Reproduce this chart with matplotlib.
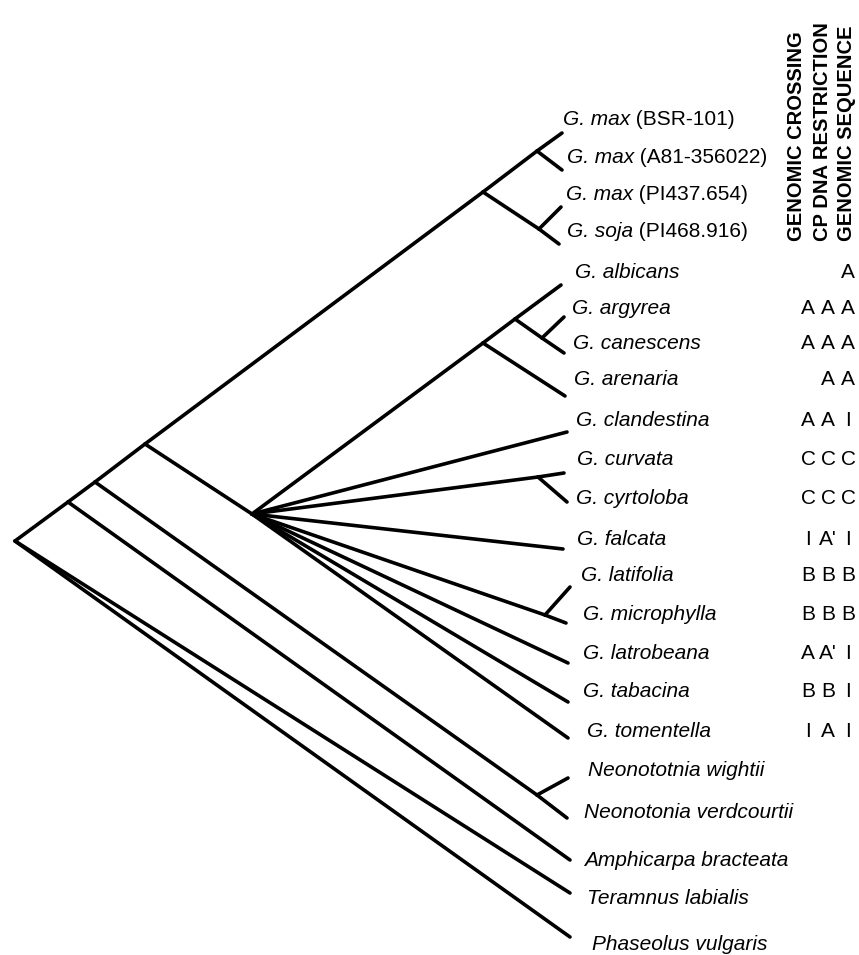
import matplotlib
matplotlib.use('Agg')
import matplotlib.pyplot as plt
from matplotlib import font_manager

# internal nodes of the cladogram, positions (pixels, y down)
node_names = ['root', 'a', 'b', 'c', 'soy', 'soy1', 'soy2', 'fan', 'p', 'q', 'r', 'cu', 'lm', 'neo']
node_x = [15, 68, 95, 145, 483, 537, 539, 252, 483, 515, 542, 538, 545, 537]
node_y = [541, 502, 482, 444, 192, 151, 229, 514, 343, 319, 338, 477, 615, 795]

# tips (end of each branch)
tip_names = ['bsr', 'a81', 'pi437', 'soja', 'albicans', 'argyrea', 'canescens', 'arenaria',
             'clandestina', 'curvata', 'cyrtoloba', 'falcata', 'latifolia', 'microphylla',
             'latrobeana', 'tabacina', 'tomentella', 'wightii', 'verdcourtii', 'amphicarpa',
             'teramnus', 'phaseolus']
tip_x = [562, 562, 561, 559, 561, 564, 564, 565, 567, 564, 567, 563, 570, 566,
         568, 568, 568, 568, 567, 570, 570, 570]
tip_y = [133, 170, 207, 244, 285, 317, 353, 396, 432, 473, 502, 549, 587, 623,
         663, 702, 738, 778, 818, 860, 893, 937]

edges = [('root', 'a'), ('a', 'b'), ('b', 'c'), ('c', 'soy'),
         ('soy', 'soy1'), ('soy1', 'bsr'), ('soy1', 'a81'),
         ('soy', 'soy2'), ('soy2', 'pi437'), ('soy2', 'soja'),
         ('c', 'fan'), ('fan', 'p'), ('p', 'q'), ('q', 'albicans'), ('q', 'r'),
         ('r', 'argyrea'), ('r', 'canescens'), ('p', 'arenaria'),
         ('fan', 'clandestina'), ('fan', 'cu'), ('cu', 'curvata'), ('cu', 'cyrtoloba'),
         ('fan', 'falcata'), ('fan', 'lm'), ('lm', 'latifolia'), ('lm', 'microphylla'),
         ('fan', 'latrobeana'), ('fan', 'tabacina'), ('fan', 'tomentella'),
         ('b', 'neo'), ('neo', 'wightii'), ('neo', 'verdcourtii'),
         ('a', 'amphicarpa'), ('root', 'teramnus'), ('root', 'phaseolus')]

# taxon labels: italic name + optional accession
species = ['G. max', 'G. max', 'G. max', 'G. soja', 'G. albicans', 'G. argyrea',
           'G. canescens', 'G. arenaria', 'G. clandestina', 'G. curvata', 'G. cyrtoloba',
           'G. falcata', 'G. latifolia', 'G. microphylla', 'G. latrobeana', 'G. tabacina',
           'G. tomentella', 'Neonototnia wightii', 'Neonotonia verdcourtii',
           'Amphicarpa bracteata', 'Teramnus labialis', 'Phaseolus vulgaris']
accession = ['(BSR-101)', '(A81-356022)', '(PI437.654)', '(PI468.916)'] + [''] * 18
label_x = [563, 567, 566, 567, 575, 572, 573, 574, 576, 577, 576, 577, 581, 583,
           583, 583, 587, 588, 584, 584, 587, 592]
label_y = [125, 163, 200, 237, 278, 314, 349, 385, 426, 465, 504, 545, 581, 620,
           659, 697, 737, 776, 818, 866, 904, 950]

# genome groups for the perennial Glycine (albicans .. tomentella)
headers = ['GENOMIC CROSSING', 'CP DNA RESTRICTION', 'GENOMIC SEQUENCE']
code_cross = ['', 'A', 'A', '', 'A', 'C', 'C', 'I', 'B', 'B', 'A', 'B', 'I']
code_cp = ['', 'A', 'A', 'A', 'A', 'C', 'C', "A'", 'B', 'B', "A'", 'B', 'A']
code_seq = ['A', 'A', 'A', 'A', 'I', 'C', 'C', 'I', 'B', 'B', 'I', 'I', 'I']
code_rows = list(range(4, 17))

fig = plt.figure(figsize=(8.59, 9.55), dpi=100)
ax = fig.add_axes([0, 0, 1, 1])
ax.set_xlim(0, 859)
ax.set_ylim(955, 0)
ax.axis('off')

pos = {n: (x, y) for n, x, y in zip(node_names, node_x, node_y)}
pos.update({n: (x, y) for n, x, y in zip(tip_names, tip_x, tip_y)})
for a, b in edges:
    ax.plot([pos[a][0], pos[b][0]], [pos[a][1], pos[b][1]], color='black', lw=2.6,
            solid_capstyle='round')

for sp, acc, x, y in zip(species, accession, label_x, label_y):
    t = ax.text(x, y, sp, family='Liberation Sans', style='italic', size=15,
                ha='left', va='baseline')
    if acc:
        ax.annotate(' ' + acc, xy=(1, 0), xycoords=t, family='Liberation Sans',
                    size=15, ha='left', va='bottom')

# column headers, condensed bold if available
names = {f.name for f in font_manager.fontManager.ttflist}
if 'Liberation Sans Narrow' in names:
    head_family, head_size = 'Liberation Sans Narrow', 18
else:
    head_family, head_size = 'Liberation Sans', 14.5
head_x = [796, 822, 846]
for h, x in zip(headers, head_x):
    ax.text(x, 241, h, rotation=90, ha='center', va='bottom', family=head_family,
            weight='bold', size=head_size)

code_x = [808, 828, 848]
for cross, cp, seq, r in zip(code_cross, code_cp, code_seq, code_rows):
    for c, x in zip([cross, cp, seq], code_x):
        ax.text(x, label_y[r], c, family='Liberation Sans', size=15,
                ha='center', va='baseline')

fig.savefig('out.png', dpi=100)
